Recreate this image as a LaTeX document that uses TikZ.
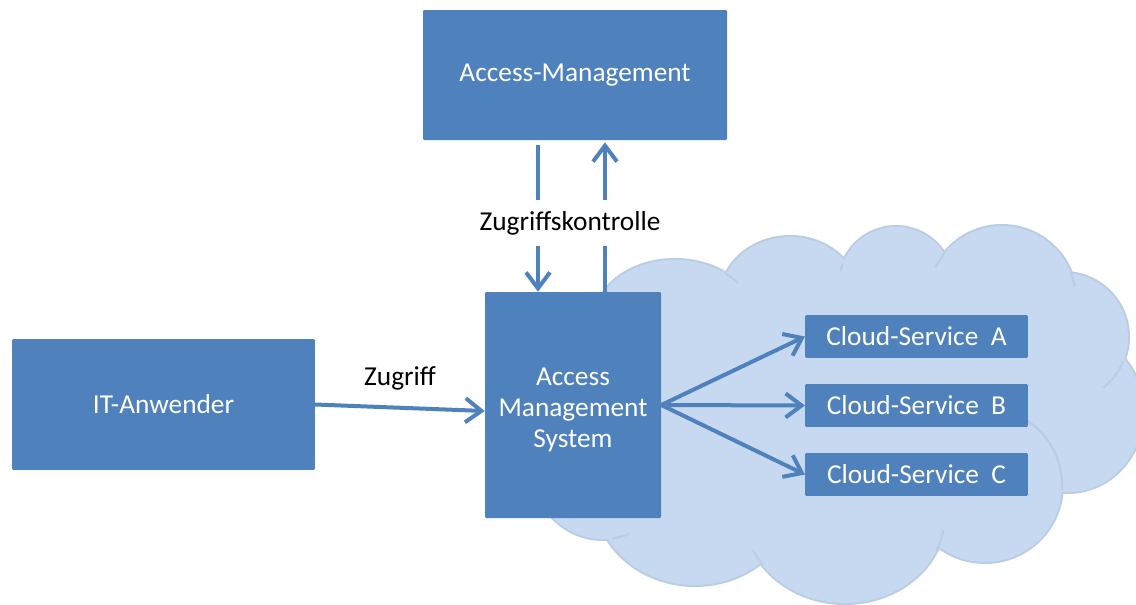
\documentclass[tikz,border=0pt]{standalone}
\usepackage{fontspec}
\setmainfont{Carlito}
\usetikzlibrary{arrows.meta,calc}
\definecolor{boxblue}{RGB}{79,129,189}
\definecolor{cloudfill}{RGB}{198,217,240}
\definecolor{cloudline}{RGB}{185,205,228}
\def\cloudpuffs{675/320/80/60, 790/300/70/63, 896/284/57/57, 1002/300/74/74,
  1064/337/64/64, 1068/412/75/80, 985/485/77/77, 845/515/100/88,
  695/495/100/90, 603/470/69/69}
% inner arcs: centre x/y, radii, start/end angle
\def\cloudseams{675/320/80/60/-51/-38, 896/284/57/57/193/201, 1002/300/74/74/206/219,
  1002/300/74/74/-22/-10, 1064/337/64/64/22/52, 985/485/77/77/-64/4,
  845/515/100/88/10/24, 845/515/100/88/145/157, 603/470/69/69/68/82}

\begin{document}
\begin{tikzpicture}[x=0.75pt,y=-0.75pt,node distance=51.75pt,
                    >={Straight Barb[length=12pt,width=18pt]},
                    font=\fontsize{20.5}{23.3}\selectfont]
  \tikzstyle{box}=[fill=boxblue,text=white,align=center,inner sep=0pt,rounded corners=0.8pt]
  \tikzstyle{svc}=[box,minimum width=167pt,minimum height=32pt]
  \tikzstyle{flow}=[->,draw=boxblue,line width=3pt]
  \tikzstyle{puff}=[draw=cloudline,line width=3pt]

  \useasboundingbox (0,0) rectangle (1136,604);

  % cloud: outlines first, then fill over the inner strokes
  \foreach \cx/\cy/\rx/\ry in \cloudpuffs
    \draw[puff,fill=cloudfill] (\cx,\cy) ellipse [x radius=\rx, y radius=\ry];
  \foreach \cx/\cy/\rx/\ry in \cloudpuffs
    \fill[cloudfill] (\cx,\cy) ellipse [x radius=\rx, y radius=\ry];
  \fill[cloudfill] (675,320) -- (790,300) -- (896,284) -- (1002,300) -- (1064,337)
    -- (1068,412) -- (985,485) -- (845,515) -- (695,495) -- (603,470) -- cycle;
  \foreach \cx/\cy/\rx/\ry/\sa/\ea in \cloudseams
    \draw[cloudline,line width=1.6pt] ($(\cx,\cy)+({\rx*cos(\sa)},{\ry*sin(\sa)})$)
      arc[start angle=\sa,end angle=\ea,x radius=\rx,y radius=\ry];

  \node[box,minimum width=228pt,minimum height=97.5pt] (AM) at (575,75) {Access-Management};
  \node[box,minimum width=227pt,minimum height=98pt] (IT) at (163.5,404.5) {IT-Anwender};
  \node[box,minimum width=132pt,minimum height=169.5pt] (AMS) at (573,405) {\rule{0pt}{20.7pt}Access\\Management\\System};
  \node[svc] (CSB) at (916.5,405.5) {Cloud-Service~~B};
  \node[svc] (CSA) [above of=CSB] {Cloud-Service~~A};
  \node[svc] (CSC) [below of=CSB] {Cloud-Service~~C};

  \coordinate (dn) at ($(AM.south)+(-37,0)$);
  \coordinate (up) at ($(AM.south)+(30,0)$);
  \draw[flow,shorten <=3.75pt] (dn) -- (dn |- AMS.north);
  \draw[flow,shorten >=1.5pt] (up |- AMS.north) -- (up);
  \node[fill=white,minimum height=34pt,inner sep=1pt] (ctl) at (570,223) {Zugriffskontrolle};

  \draw[flow] (IT.east) -- ([yshift=-4.5pt]AMS.west);
  \node (acc) at (400,378) {Zugriff};

  \path (AMS.east) edge[flow] (CSA.west)
                   edge[flow] (CSB.west)
                   edge[flow] (CSC.west);
\end{tikzpicture}
\end{document}
